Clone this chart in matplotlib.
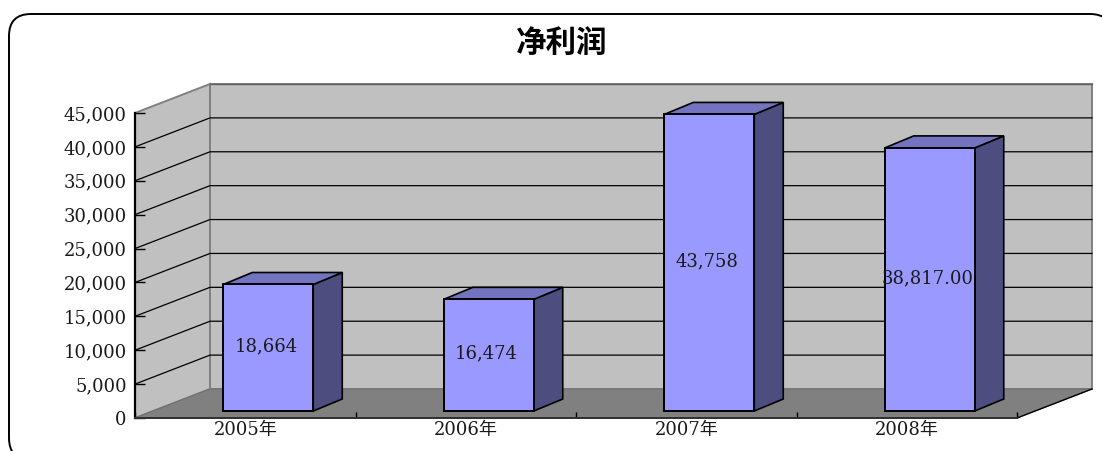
import matplotlib
matplotlib.use("Agg")
import matplotlib.pyplot as plt
from matplotlib.patches import Polygon, FancyBboxPatch
from matplotlib.transforms import Affine2D

plt.rcParams['font.family'] = ['DejaVu Serif', 'Noto Sans CJK SC']

# data
years = ["2005年", "2006年", "2007年", "2008年"]
profit = [18664, 16474, 43758, 38817]
profit_labels = ["18,664", "16,474", "43,758", "38,817.00"]
y_ticks = [0, 5000, 10000, 15000, 20000, 25000, 30000, 35000, 40000, 45000]

W, H = 1102, 451
fig = plt.figure(figsize=(W / 100, H / 100), dpi=100)
ax = fig.add_axes([135 / W, 1 - 418 / H, 882 / W, 305 / H])
ax.set_xlim(0, len(years))
ax.set_ylim(0, max(y_ticks))
ax.patch.set_visible(False)

# rounded frame, runs past the right and bottom of the picture
to_px = Affine2D().scale(1 / W, 1 / H) + fig.transFigure
frame = FancyBboxPatch((9, -9), 1103, 446, boxstyle="round,pad=0,rounding_size=22",
                       transform=to_px, fc="white", ec="black", lw=1.4, zorder=-5)
fig.add_artist(frame)

# depth of the 3d box, in data units
dx = 75 / 220.5
dy = 29 / 305 * max(y_ticks)
top = max(y_ticks)
n = len(years)


def poly(points, fc, ec, lw, z=1):
    ax.add_patch(Polygon(points, closed=True, fc=fc, ec=ec, lw=lw, zorder=z,
                         clip_on=False, joinstyle="miter"))


# walls and floor
poly([(0, 0), (dx, dy), (dx, dy + top), (0, top)], "#C0C0C0", "#808080", 1.4)
poly([(dx, dy), (n + dx, dy), (n + dx, dy + top), (dx, dy + top)], "#C0C0C0", "#808080", 1.4)
poly([(0, 0), (n, 0), (n + dx, dy), (dx, dy)], "#808080", "#707070", 0.8)
ax.plot([n, n + dx], [0, dy], color="black", lw=1, clip_on=False, zorder=1.5)

# gridlines go along the side wall then across the back wall
for v in y_ticks[1:-1]:
    ax.plot([0, dx, n + dx], [v, v + dy, v + dy], color="black", lw=0.9,
            clip_on=False, zorder=1.2, solid_joinstyle="miter")
ax.plot([dx, n + dx], [top + dy, top + dy], color="#606060", lw=1, clip_on=False, zorder=1.2)

# bars
bar_w = 90 / 220.5
shift_x = 23 / 220.5
lift = 7 / 305 * top
depth_x = 29 / 220.5
depth_y = 12 / 305 * top
for i, v in enumerate(profit):
    x0 = i + 0.5 + shift_x - bar_w / 2
    x1 = x0 + bar_w
    y0 = lift
    y1 = lift + v
    poly([(x1, y0), (x1 + depth_x, y0 + depth_y), (x1 + depth_x, y1 + depth_y), (x1, y1)],
         "#4D4D80", "black", 1.2, 3)
    poly([(x0, y1), (x1, y1), (x1 + depth_x, y1 + depth_y), (x0 + depth_x, y1 + depth_y)],
         "#7373BF", "black", 1.2, 3)
    poly([(x0, y0), (x1, y0), (x1, y1), (x0, y1)], "#9999FF", "black", 1.4, 3.1)
    ax.text((x0 + x1) / 2 - 0.01, (y0 + y1) / 2 + 0.005 * top, profit_labels[i], ha="center",
            va="center", fontsize=13, color="#1a1a1a", zorder=4)

# axes
for s in ["top", "right"]:
    ax.spines[s].set_visible(False)
ax.spines["left"].set_linewidth(1.6)
ax.spines["bottom"].set_linewidth(1.4)
ax.spines["bottom"].set_color("#303030")
ax.set_yticks(y_ticks)
ax.set_yticklabels([f"{v:,}" for v in y_ticks], fontsize=13, color="#1a1a1a")
ax.tick_params(axis="y", direction="in", length=7, width=1, pad=6)
ax.set_xticks([i + 0.5 for i in range(n)])
ax.set_xticklabels(years, fontsize=13, color="#1a1a1a")
ax.set_xticks(range(n + 1), minor=True)
ax.tick_params(axis="x", which="major", length=0, pad=2)
ax.tick_params(axis="x", which="minor", direction="in", length=4, width=1)

fig.text(562 / W, 1 - 43 / H, "净利润", ha="center", va="center", fontsize=22,
         fontweight="bold", family=['Noto Sans CJK SC', 'DejaVu Sans'], color="black")

fig.savefig("out.png", dpi=100)
